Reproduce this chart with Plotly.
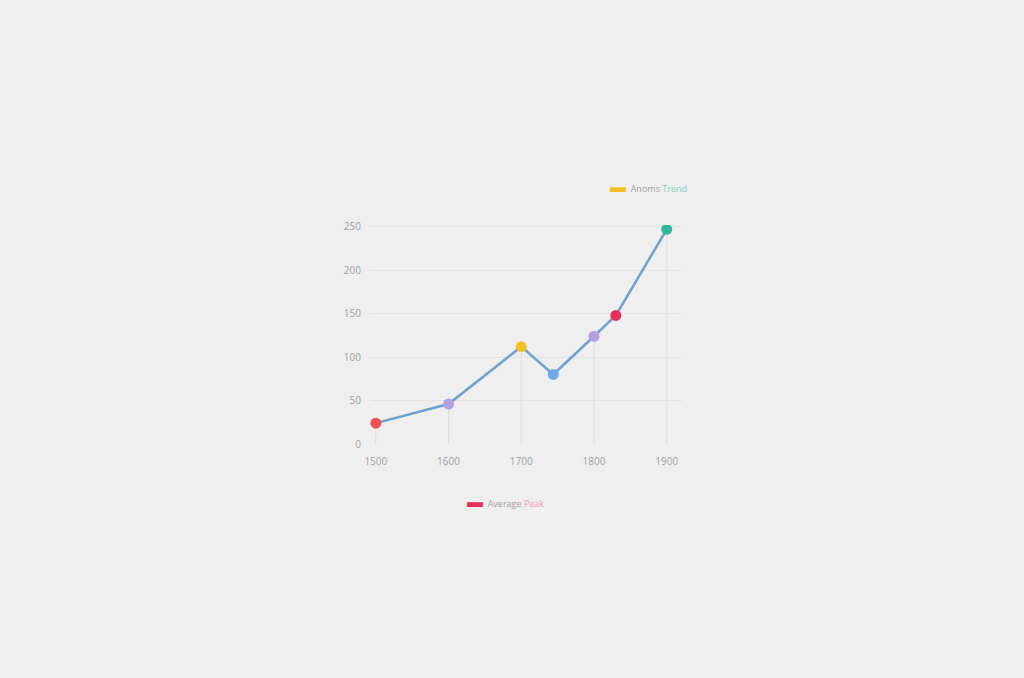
import plotly.graph_objects as go

# data
years = [1500, 1600, 1700, 1744, 1800, 1830, 1900]
values = [24, 46, 112, 80, 124, 148, 247]
point_colors = ["#f0525a", "#b4a0de", "#f5bf25", "#6ea8ea", "#b4a0de", "#e6305c", "#2fb89a"]

x_ticks = [1500, 1600, 1700, 1800, 1900]
y_ticks = [0, 50, 100, 150, 200, 250]

bg = "#efefef"
grey_text = "#a0a0a0"

# points sitting on an x tick get a faint drop line down to the axis
lookup = dict(zip(years, values))
drop_x = [x for x in x_ticks if x in lookup]
drop_y = [lookup[x] for x in drop_x]

fig = go.Figure()

fig.add_trace(go.Scatter(
    x=drop_x,
    y=drop_y,
    mode="markers",
    marker=dict(size=1, opacity=0),
    error_y=dict(type="data", symmetric=False, array=[0] * len(drop_y),
                 arrayminus=drop_y, color="#dedede", thickness=1, width=0),
    hoverinfo="skip",
    showlegend=False,
))

fig.add_trace(go.Scatter(
    x=years,
    y=values,
    mode="lines+markers",
    line=dict(color="#6fa2cf", width=2.5),
    marker=dict(size=11, color=point_colors, line=dict(width=0)),
    showlegend=False,
))

# small legend-like labels (bar glyph + text)
fig.add_annotation(
    xref="paper", yref="paper", x=0.762, y=1.176,
    xanchor="left", yanchor="middle", showarrow=False,
    text="<span style='color:#f5bf25;font-size:16px'>▬</span>  Anoms <span style='color:#7fd3bb'>Trend</span>",
    font=dict(size=9, color=grey_text),
)
fig.add_annotation(
    xref="paper", yref="paper", x=0.303, y=-0.259,
    xanchor="left", yanchor="middle", showarrow=False,
    text="<span style='color:#e6305c;font-size:16px'>▬</span>  Average <span style='color:#f0a0b4'>Peak</span>",
    font=dict(size=9, color=grey_text),
)

fig.update_xaxes(
    range=[1492, 1921],
    tickvals=x_ticks,
    ticktext=[str(v) for v in x_ticks],
    showgrid=False,
    zeroline=False,
    showline=False,
    ticks="",
    ticklabelstandoff=10,
    tickfont=dict(size=10, color=grey_text),
)
fig.update_yaxes(
    range=[0, 252],
    tickvals=y_ticks,
    ticktext=[str(v) for v in y_ticks],
    showgrid=True,
    gridcolor="#e3e3e3",
    gridwidth=1,
    zeroline=False,
    showline=False,
    ticks="",
    ticklabelstandoff=8,
    tickfont=dict(size=10, color=grey_text),
)

fig.update_layout(
    width=1024,
    height=678,
    paper_bgcolor=bg,
    plot_bgcolor=bg,
    font=dict(family="Open Sans, sans-serif"),
    margin=dict(l=370, r=342, t=225, b=234),
    showlegend=False,
)

fig.write_html(
    "out.html",
    config={"displayModeBar": False},
    post_script="document.body.style.margin='0';document.body.style.background='#efefef';",
)
